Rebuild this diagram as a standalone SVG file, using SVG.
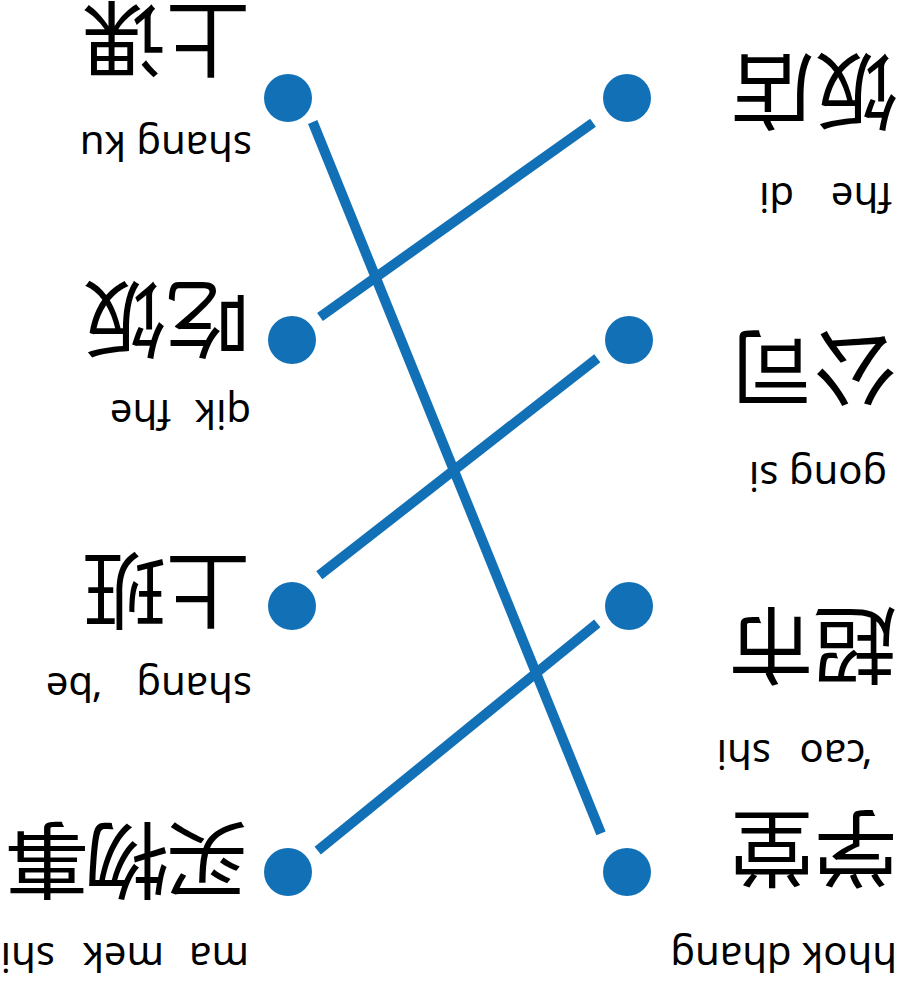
<svg xmlns="http://www.w3.org/2000/svg" width="900" height="981" viewBox="0 0 900 981">
<style>
.zh{font-family:"Noto Sans CJK SC","Noto Sans CJK TC",sans-serif;font-size:84px;fill:#000}
.py{font-family:"Noto Sans","Open Sans",sans-serif;font-size:40px;fill:#000}
.dot{fill:#1271b6}
.link{stroke:#1271b6;stroke-width:10;fill:none;stroke-linecap:butt}
</style>
<rect width="900" height="981" fill="#fff"/>
<g transform="rotate(180 450 490.5)">
  <g id="connectors">
    <line class="link" x1="587.3" y1="859" x2="299" y2="147.7"/>
    <line class="link" x1="580" y1="664" x2="307" y2="858.3"/>
    <line class="link" x1="580.7" y1="405.7" x2="302.7" y2="622.7"/>
    <line class="link" x1="582.3" y1="130.3" x2="302.7" y2="357.7"/>
  </g>
  <g id="node-fandian">
    <circle class="dot" cx="273" cy="883" r="24"/>
    <text class="zh" x="2" y="921">饭店</text>
    <text class="py" y="798"><tspan x="8">fhe</tspan><tspan x="106">di</tspan></text>
  </g>
  <g id="node-gongsi">
    <circle class="dot" cx="271" cy="641" r="24"/>
    <text class="zh" x="2" y="644">公司</text>
    <text class="py" x="13" y="519">gong si</text>
  </g>
  <g id="node-chaoshi">
    <circle class="dot" cx="271" cy="375" r="24"/>
    <text class="zh" x="3" y="367">超市</text>
    <text class="py" y="241"><tspan x="30">‘cao</tspan><tspan x="129">shi</tspan></text>
  </g>
  <g id="node-xuetang">
    <circle class="dot" cx="273" cy="109" r="24"/>
    <text class="zh" x="2" y="164">学堂</text>
    <text class="py" x="3" y="38">hhok dhang</text>
  </g>
  <g id="node-shangke">
    <circle class="dot" cx="612" cy="883" r="24"/>
    <text class="zh" x="650" y="973">上课</text>
    <text class="py" x="648" y="849">shang ku</text>
  </g>
  <g id="node-chifan">
    <circle class="dot" cx="608" cy="641" r="24"/>
    <text class="zh" x="650" y="693">吃饭</text>
    <text class="py" y="581"><tspan x="649">qik</tspan><tspan x="729">fhe</tspan></text>
  </g>
  <g id="node-shangban">
    <circle class="dot" cx="608" cy="375" r="24"/>
    <text class="zh" x="650" y="422">上班</text>
    <text class="py" y="308"><tspan x="648">shang</tspan><tspan x="800">‘be</tspan></text>
  </g>
  <g id="node-maiwushi">
    <circle class="dot" cx="612" cy="109" r="24"/>
    <text class="zh" x="651" y="152" letter-spacing="-4">买物事</text>
    <text class="py" y="38"><tspan x="651">ma</tspan><tspan x="736">mek</tspan><tspan x="845">shi</tspan></text>
  </g>
</g>
</svg>
